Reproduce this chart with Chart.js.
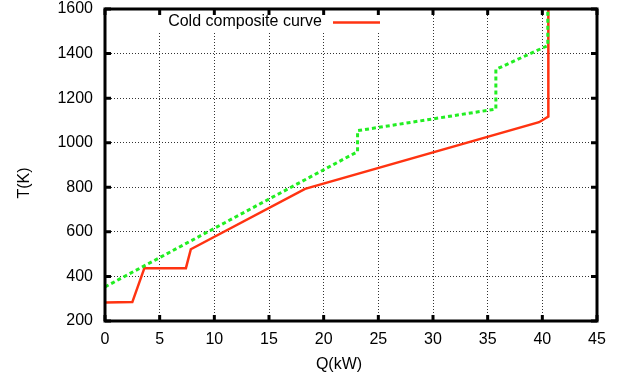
<!DOCTYPE html>
<html>
<head>
<meta charset="utf-8">
<script src="https://cdn.jsdelivr.net/npm/chart.js@4.4.1/dist/chart.umd.min.js"></script>
<style>
  html, body { margin: 0; padding: 0; background: #ffffff; }
</style>
</head>
<body>
<canvas id="chart" width="623" height="379"></canvas>
<script>
// cold composite curve (red, solid)
const coldQ = [0, 2.5, 3.6, 7.4, 7.85, 18.3, 39.7, 40.55, 40.55];
const coldT = [283, 285, 437, 437, 522, 793, 1092, 1117, 1600];

// hot composite curve (green, dashed) - no legend entry in the original
const hotQ = [0, 23.1, 23.1, 35.75, 35.75, 40.5, 40.5];
const hotT = [353, 960, 1054, 1151, 1329, 1436, 1600];

const xTicks = [0, 5, 10, 15, 20, 25, 30, 35, 40, 45];
const yTicks = [200, 400, 600, 800, 1000, 1200, 1400, 1600];

const FONT = "'Liberation Sans', Arial, Helvetica, sans-serif";

const toPoints = (xs, ys) => xs.map((x, i) => ({ x: x, y: ys[i] }));

// keep the plot box exactly where the layout padding puts it
const noPad = (s) => {
  s.paddingTop = 0;
  s.paddingBottom = 0;
  s.paddingLeft = 0;
  s.paddingRight = 0;
};

// gnuplot-ish frame: thick border, inward ticks on all sides, legend, axis labels
const frame = {
  id: "gnuplotFrame",
  beforeDatasetsDraw: (chart) => {
    // legend box hides the grid underneath it
    const { ctx } = chart;
    ctx.save();
    ctx.fillStyle = "#fff";
    ctx.fillRect(150, 10, 236, 21);
    ctx.restore();
  },
  afterDraw: (chart) => {
    const { ctx, chartArea: a, scales } = chart;
    ctx.save();
    ctx.strokeStyle = "#000";
    ctx.lineWidth = 3;
    ctx.strokeRect(a.left, a.top, a.right - a.left, a.bottom - a.top);

    ctx.beginPath();
    xTicks.forEach((v) => {
      const px = scales.x.getPixelForValue(v);
      ctx.moveTo(px, a.bottom);
      ctx.lineTo(px, a.bottom - 6);
      ctx.moveTo(px, a.top);
      ctx.lineTo(px, a.top + 6);
    });
    yTicks.forEach((v) => {
      const py = scales.y.getPixelForValue(v);
      ctx.moveTo(a.left, py);
      ctx.lineTo(a.left + 6, py);
      ctx.moveTo(a.right, py);
      ctx.lineTo(a.right - 6, py);
    });
    ctx.stroke();

    // legend
    const ds = chart.data.datasets[0];
    ctx.font = "16px " + FONT;
    ctx.fillStyle = "#000";
    ctx.textAlign = "right";
    ctx.textBaseline = "middle";
    ctx.fillText(ds.label, 322, 22);
    ctx.strokeStyle = ds.borderColor;
    ctx.lineWidth = 2.5;
    ctx.beginPath();
    ctx.moveTo(333, 22.5);
    ctx.lineTo(380, 22.5);
    ctx.stroke();

    // axis titles
    ctx.fillStyle = "#000";
    ctx.textAlign = "center";
    ctx.fillText("Q(kW)", 339, 365);
    ctx.translate(25, 183);
    ctx.rotate(-Math.PI / 2);
    ctx.fillText("T(K)", 0, 0);
    ctx.restore();
  },
};

const chart = new Chart(document.getElementById("chart").getContext("2d"), {
  type: "scatter",
  data: {
    datasets: [
      {
        label: "Cold composite curve",
        data: toPoints(coldQ, coldT),
        showLine: true,
        borderColor: "#ff3311",
        borderWidth: 2.5,
        pointRadius: 0,
        tension: 0,
        order: 1,
      },
      {
        label: "Hot composite curve",
        data: toPoints(hotQ, hotT),
        showLine: true,
        borderColor: "#22ee22",
        borderWidth: 3,
        borderDash: [4, 3],
        pointRadius: 0,
        tension: 0,
        order: 0,
      },
    ],
  },
  options: {
    responsive: false,
    animation: false,
    layout: { padding: { top: 9, right: 26, left: 0, bottom: 0 } },
    plugins: {
      legend: { display: false },
      tooltip: { enabled: false },
    },
    scales: {
      x: {
        type: "linear",
        min: 0,
        max: 45,
        afterFit: (s) => { s.height = 58; noPad(s); },
        afterBuildTicks: (s) => { s.ticks = xTicks.map((v) => ({ value: v })); },
        ticks: {
          color: "#000",
          padding: 11,
          maxRotation: 0,
          callback: (v) => String(v),
          font: { family: FONT, size: 16, lineHeight: 1 },
        },
        grid: { color: "rgba(0,0,0,0.8)", lineWidth: 1, drawTicks: false },
        border: { display: false, dash: [1, 2] },
      },
      y: {
        type: "linear",
        min: 200,
        max: 1600,
        afterFit: (s) => { s.width = 105; noPad(s); },
        afterBuildTicks: (s) => { s.ticks = yTicks.map((v) => ({ value: v })); },
        ticks: {
          color: "#000",
          padding: 12,
          callback: (v) => String(v),
          font: { family: FONT, size: 16, lineHeight: 1 },
        },
        grid: { color: "rgba(0,0,0,0.8)", lineWidth: 1, drawTicks: false },
        border: { display: false, dash: [1, 2] },
      },
    },
  },
  plugins: [frame],
});
</script>
</body>
</html>
